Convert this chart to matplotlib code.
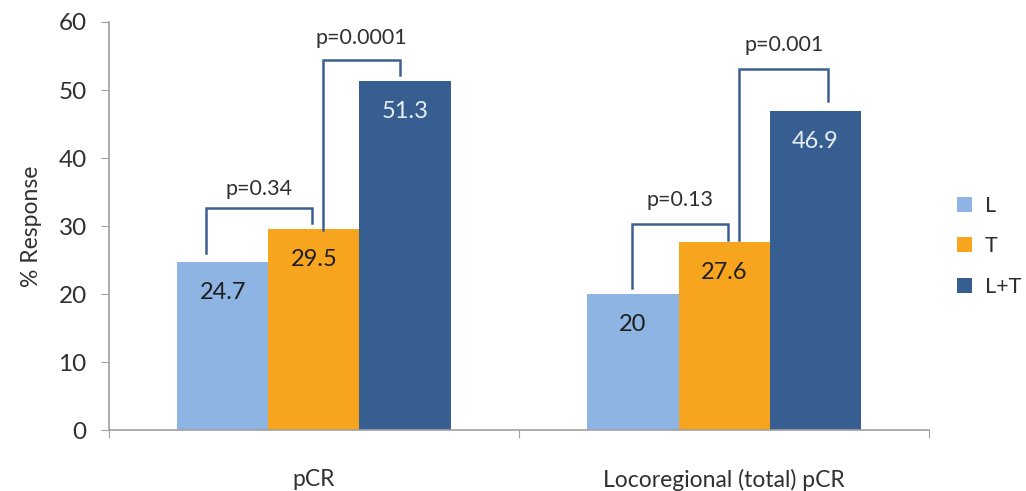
import matplotlib
matplotlib.use("Agg")
import matplotlib.pyplot as plt
import numpy as np

plt.rcParams['font.family'] = ['Lato', 'DejaVu Sans']

# data
categories = ["pCR", "Locoregional (total) pCR"]
series = ["L", "T", "L+T"]
values = {
    "L": [24.7, 20],
    "T": [29.5, 27.6],
    "L+T": [51.3, 46.9],
}
colors = {"L": "#8DB4E2", "T": "#F7A51F", "L+T": "#365E91"}
label_colors = {"L": "#1E1E1E", "T": "#1E1E1E", "L+T": "#E8EEF6"}

# p-value brackets: (group, text, left leg x offset, right leg x offset,
#                    left bottom, right bottom, top, text y)
brackets = [
    (0, "p=0.34", -0.263, -0.005, 26.0, 30.4, 32.6, 35.5),
    (0, "p=0.0001", 0.022, 0.210, 29.4, 52.2, 54.4, 57.6),
    (1, "p=0.13", -0.224, 0.010, 20.9, 27.9, 30.3, 33.8),
    (1, "p=0.001", 0.037, 0.254, 27.9, 48.4, 53.1, 56.6),
]

fig = plt.figure(figsize=(10.26, 4.91), dpi=100)
ax = fig.add_axes([0.1062, 0.1242, 0.7993, 0.831])

x = np.arange(len(categories))
width = 0.222
for i, s in enumerate(series):
    xs = x + (i - 1) * width
    ax.bar(xs, values[s], width=width, color=colors[s], label=s)
    for xi, v in zip(xs, values[s]):
        ax.annotate(f"{v:g}", (xi, v), xytext=(0, -22), textcoords="offset points",
                    ha="center", va="center", fontsize=17, color=label_colors[s])

for g, txt, xl, xr, yl, yr, top, ty in brackets:
    ax.plot([x[g] + xl, x[g] + xl, x[g] + xr, x[g] + xr], [yl, top, top, yr],
            color="#3F5F8E", lw=1.8, solid_joinstyle="miter", clip_on=False)
    ax.text(x[g] + (xl + xr) / 2, ty, txt, ha="center", va="center",
            fontsize=15.5, color="#303030")

ax.set_xlim(-0.5, 1.5)
ax.set_ylim(0, 60)
ax.set_yticks(range(0, 61, 10))
ax.set_xticks([-0.5, 0.5, 1.5])
ax.set_xticklabels([])
ax.set_xticks(x, minor=True)
ax.set_xticklabels(categories, minor=True, fontsize=16.5, color="#303030")
ax.tick_params(axis="x", which="minor", length=0, pad=28)
ax.tick_params(axis="x", which="major", length=6, color="#A0A0A0", direction="out")
ax.tick_params(axis="y", length=6, color="#A0A0A0", labelsize=17.5, pad=10,
               labelcolor="#303030")
for sp in ["top", "right"]:
    ax.spines[sp].set_visible(False)
for sp in ["left", "bottom"]:
    ax.spines[sp].set_color("#A0A0A0")
    ax.spines[sp].set_linewidth(1.2)

ax.set_ylabel("% Response", fontsize=16.5, color="#303030", labelpad=12)

leg = ax.legend(loc="center left", bbox_to_anchor=(1.01, 0.45), frameon=False,
                fontsize=15.5, handlelength=0.7, handleheight=0.7,
                labelspacing=0.95, handletextpad=0.6)
for t in leg.get_texts():
    t.set_color("#303030")

fig.savefig("out.png", dpi=100)
